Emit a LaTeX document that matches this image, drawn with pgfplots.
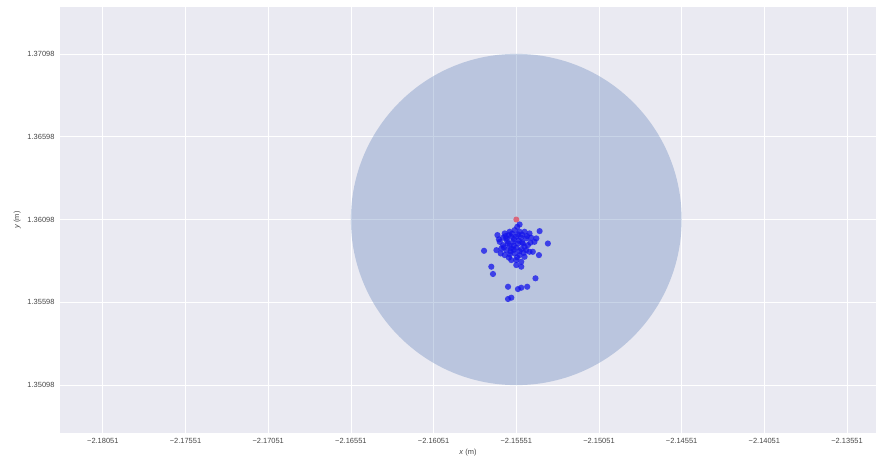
\documentclass[border=0pt]{standalone}
\usepackage{fontspec}
\setmainfont{Liberation Sans}
\usepackage{pgfplots}
\usepackage{pgfplotstable}
\pgfplotsset{compat=1.18}

\definecolor{sbbg}{RGB}{234,234,242}
\definecolor{cnull}{RGB}{76,114,176}
\definecolor{pts}{RGB}{20,20,235}
\definecolor{refpt}{RGB}{230,60,80}
\definecolor{ticktext}{RGB}{70,70,70}

% measured positions (m)
\pgfplotstableread{
x y
-2.15531 1.36068
-2.15545 1.36054
-2.15746 1.35909
-2.15360 1.35953
-2.15410 1.36028
-2.15430 1.35984
-2.15451 1.35903
-2.15414 1.35883
-2.15702 1.35813
-2.15692 1.35769
-2.15435 1.35743
-2.15601 1.35692
-2.15541 1.35678
-2.15521 1.35686
-2.15485 1.35692
-2.15601 1.35618
-2.15581 1.35626
-2.15521 1.35813
-2.15665 1.36004
-2.15621 1.36014
-2.15591 1.36024
-2.15561 1.36034
-2.15531 1.36024
-2.15501 1.36024
-2.15471 1.36014
-2.15611 1.35984
-2.15581 1.35994
-2.15551 1.35994
-2.15521 1.35988
-2.15491 1.35984
-2.15461 1.35988
-2.15441 1.35963
-2.15651 1.35963
-2.15631 1.35943
-2.15601 1.35953
-2.15571 1.35963
-2.15541 1.35953
-2.15511 1.35953
-2.15481 1.35943
-2.15671 1.35913
-2.15641 1.35923
-2.15611 1.35913
-2.15581 1.35923
-2.15551 1.35927
-2.15521 1.35919
-2.15491 1.35913
-2.15621 1.35883
-2.15591 1.35887
-2.15561 1.35893
-2.15531 1.35883
-2.15501 1.35873
-2.15581 1.35853
-2.15551 1.35853
-2.15521 1.35843
-2.15597 1.36004
-2.15541 1.36008
-2.15565 1.35980
-2.15631 1.35988
-2.15501 1.35933
-2.15591 1.35939
-2.15531 1.35907
-2.15645 1.35893
-2.15471 1.35903
-2.15551 1.35823
-2.15576 1.36012
-2.15516 1.36006
-2.15606 1.35968
-2.15536 1.35970
-2.15586 1.35905
-2.15566 1.35941
-2.15506 1.35897
-2.15626 1.35930
-2.15656 1.35978
-2.15486 1.35998
-2.15546 1.35870
-2.15596 1.35868
-2.15516 1.35960
-2.15566 1.35915
-2.15616 1.35998
-2.15466 1.35958
}\measured

% target position (m)
\pgfplotstableread{
x y
-2.15551 1.36098
}\target

\begin{document}
\begin{tikzpicture}
\begin{axis}[
  name=ax,
  scale only axis,
  width=816bp, height=426bp,
  xmin=-2.18310, xmax=-2.13376,
  ymin=1.34809, ymax=1.37381,
  axis background/.style={fill=sbbg},
  axis line style={draw=none},
  grid=major,
  major grid style={white, line width=0.7bp},
  major tick length=0pt,
  scaled ticks=false,
  xtick={-2.18051,-2.17551,-2.17051,-2.16551,-2.16051,-2.15551,-2.15051,-2.14551,-2.14051,-2.13551},
  xticklabels={−2.18051,−2.17551,−2.17051,−2.16551,−2.16051,−2.15551,−2.15051,−2.14551,−2.14051,−2.13551},
  ytick={1.35098,1.35598,1.36098,1.36598,1.37098},
  yticklabels={1.35098,1.35598,1.36098,1.36598,1.37098},
  tick label style={font=\fontsize{7.5}{9}\selectfont, text=ticktext},
  xticklabel style={yshift=-2bp},
  yticklabel style={xshift=-2bp},
  label style={font=\fontsize{7.5}{9}\selectfont, text=ticktext},
  xlabel={\textit{x} (m)},
  ylabel={\textit{y} (m)},
  xlabel style={yshift=2bp},
  clip=true,
]
% tolerance zone around the target
\fill[cnull, fill opacity=0.3] (axis cs:-2.15551,1.36098) circle [x radius=0.01, y radius=0.01];

\addplot[only marks, mark=*, mark size=3.1bp, color=pts,
  mark options={fill=pts, draw opacity=0, fill opacity=0.75}] table[x=x, y=y] {\measured};
\addplot[only marks, mark=*, mark size=3bp, color=refpt,
  mark options={fill=refpt, draw opacity=0, fill opacity=0.7}] table[x=x, y=y] {\target};
\end{axis}
\pgfresetboundingbox
\path[use as bounding box] ([shift={(-60bp,-31bp)}]ax.south west) rectangle ([shift={(1bp,7bp)}]ax.north east);
\end{tikzpicture}
\end{document}
